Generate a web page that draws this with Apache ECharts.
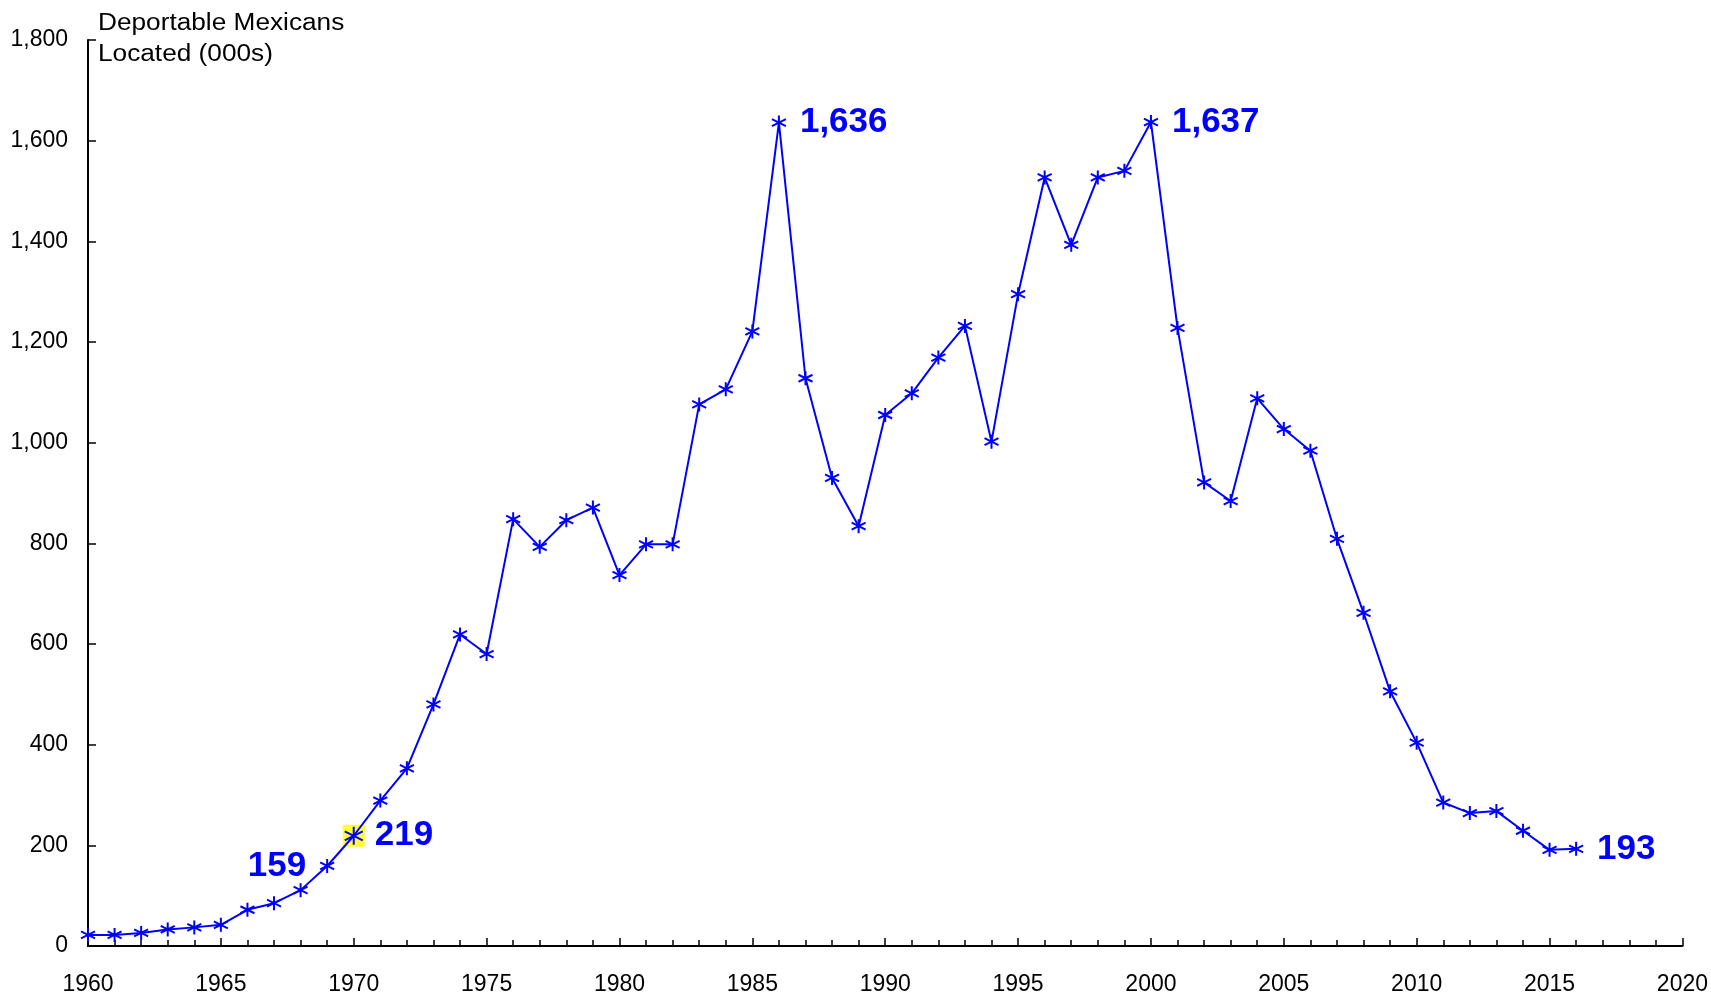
<!DOCTYPE html>
<html>
<head>
<meta charset="utf-8">
<script src="https://cdn.jsdelivr.net/npm/echarts@6/dist/echarts.min.js"></script>
<style>
html,body{margin:0;padding:0;background:#fff;}
#c{width:1711px;height:996px;}
</style>
</head>
<body>
<div id="c"></div>
<script>
const years = [1960,1961,1962,1963,1964,1965,1966,1967,1968,1969,1970,1971,1972,1973,1974,1975,1976,1977,1978,1979,1980,1981,1982,1983,1984,1985,1986,1987,1988,1989,1990,1991,1992,1993,1994,1995,1996,1997,1998,1999,2000,2001,2002,2003,2004,2005,2006,2007,2008,2009,2010,2011,2012,2013,2014,2015,2016];
const located = [22,22,26,33,37,42,72,85,111,159,219,289,353,480,619,580,848,793,846,871,737,798,798,1076,1106,1221,1636,1128,930,834,1055,1098,1169,1232,1002,1295,1527,1393,1527,1540,1637,1228,921,884,1088,1027,984,809,662,506,404,285,264,268,229,191,193];
const labelledYears = [1969,1970,1986,2000,2016];
const labelSides = ['left','right','right','right','right'];
const highlightYear = 1970;
const yTicks = [0,200,400,600,800,1000,1200,1400,1600,1800];
const xTicks = [1960,1965,1970,1975,1980,1985,1990,1995,2000,2005,2010,2015,2020];
const titleLines = ['Deportable Mexicans','Located (000s)'];

const BLUE = '#0000FF';
const FONT = '"Liberation Sans", Arial, sans-serif';
const star = 'path://M5,0L5,10M0.67,2.5L9.33,7.5M0.67,7.5L9.33,2.5';
const fmt = v => Number(v).toLocaleString('en-US');

const lineData = years.map((y,i) => {
  const k = labelledYears.indexOf(y);
  const item = { value: [y, located[i]] };
  if (y === highlightYear) item.symbolSize = 18;
  if (k >= 0) {
    item.label = {
      show: true,
      position: labelSides[k],
      distance: y === highlightYear ? 11 : 13,
      formatter: p => fmt(p.value[1]),
      color: BLUE,
      fontFamily: FONT,
      fontWeight: 'bold',
      fontSize: 35
    };
  }
  return item;
});
const hiIdx = years.indexOf(highlightYear);

const chart = echarts.init(document.getElementById('c'), null, {renderer:'canvas'});
chart.setOption({
  backgroundColor: '#fff',
  animation: false,
  graphic: titleLines.map((t, i) => ({
    type: 'text',
    x: 98, y: 23.5 + i * 31,
    scaleX: 1.14,
    silent: true,
    style: { text: t, x: 0, y: 0, fill: '#000', font: '23px "Liberation Sans", Arial, sans-serif', textAlign: 'left', textVerticalAlign: 'middle', verticalAlign: 'middle' }
  })),
  grid: { left: 88, right: 27, top: 40, bottom: 47.5, containLabel: false },
  xAxis: {
    type: 'value',
    min: xTicks[0], max: xTicks[xTicks.length-1], interval: 5,
    axisLine: { lineStyle: { color: '#000', width: 2 } },
    axisTick: { inside: true, length: 8, lineStyle: { color: '#000', width: 1.5 } },
    minorTick: { show: true, splitNumber: 5, length: 6, lineStyle: { color: '#000', width: 1.5 } },
    splitLine: { show: false },
    axisLabel: { margin: 27, fontFamily: FONT, fontSize: 23, color: '#000', formatter: v => String(v) }
  },
  yAxis: {
    type: 'value',
    min: yTicks[0], max: yTicks[yTicks.length-1], interval: 200,
    axisLine: { show: true, lineStyle: { color: '#000', width: 2 } },
    axisTick: { show: true, inside: true, length: 8, lineStyle: { color: '#000', width: 1.5 } },
    splitLine: { show: false },
    axisLabel: { margin: 20, fontFamily: FONT, fontSize: 23, color: '#000', formatter: v => fmt(v) }
  },
  series: [
    {
      type: 'scatter',
      data: [[years[hiIdx], located[hiIdx]]],
      symbol: 'rect',
      symbolSize: 22,
      itemStyle: { color: '#FFFF00' },
      z: 1,
      silent: true
    },
    {
      type: 'line',
      data: lineData,
      symbol: star,
      symbolSize: 14,
      showAllSymbol: true,
      lineStyle: { color: BLUE, width: 2 },
      itemStyle: { color: 'rgba(0,0,0,0)', borderColor: BLUE, borderWidth: 2 },
      z: 3
    }
  ]
});
</script>
</body>
</html>
